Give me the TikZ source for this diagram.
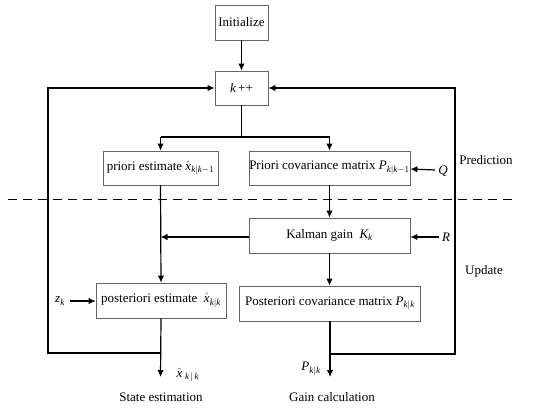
\documentclass[tikz,border=0pt]{standalone}
\usepackage{amsmath}
\usepackage{fontspec}
\setmainfont{Liberation Serif}
\usetikzlibrary{arrows.meta}
\newcommand{\mv}[1]{\textit{#1}}
\begin{document}
\begin{tikzpicture}[x=1pt,y=-1pt,
  box/.style={draw=black!60,line width=0.8pt,fill=white,inner sep=0pt,font=\fontsize{13}{15}\selectfont},
  conn/.style={line width=1.2pt,-{Latex[length=7pt,width=6.5pt]}},
  line/.style={line width=1.2pt},
  lbl/.style={inner sep=0pt,font=\fontsize{13}{15}\selectfont}]
\useasboundingbox[fill=white] (0,0) rectangle (550,412);
\node[box,minimum width=53pt,minimum height=35pt] (init) at (241.5,22.5) {Initialize};
\node[box,minimum width=53pt,minimum height=34pt] (kpp) at (241.5,88) {\mv{k}\,++};
\node[box,minimum width=115pt,minimum height=34pt] (prio) at (160.5,168) {priori estimate $\hat{\mv{x}}_{\mv{k}|\mv{k}-1}$};
\node[box,minimum width=161pt,minimum height=34pt] (pcov) at (329.5,168) {Priori covariance matrix $\mv{P}_{\mv{k}|\mv{k}-1}$};
\node[box,minimum width=161pt,minimum height=35pt] (kal) at (329.5,235.5) {Kalman gain\ \ $\mv{K}_{\mv{k}}$};
\node[box,minimum width=130pt,minimum height=35pt] (post) at (161,300.5) {posteriori estimate\ \ $\hat{\mv{x}}_{\mv{k}|\mv{k}}$};
\node[box,minimum width=181pt,minimum height=35pt] (pcovk) at (330,303.5) {Posteriori covariance matrix $\mv{P}_{\mv{k}|\mv{k}}$};
\node[lbl] (Q) at (443,171) {\mv{Q}};
\node[lbl] (R) at (446,237) {\mv{R}};
\node[lbl] (z) at (60,301) {$\mv{z}_{\mv{k}}$};
\node[lbl] (pred) at (486,160) {Prediction};
\node[lbl] (upd) at (484,271) {Update};
\node[lbl] (se) at (161,397) {State estimation};
\node[lbl] (gc) at (332,397) {Gain calculation};
\node[lbl] (xo) at (188,375) {$\hat{\mv{x}}_{\;\mv{k}\,|\,\mv{k}}$};
\node[lbl] (po) at (311,369) {$\mv{P}_{\mv{k}|\mv{k}}$};
\coordinate (split) at (241.5,137);
\coordinate (sl) at (160.5,137);
\coordinate (sr) at (329.5,137);
\coordinate (kj) at (160.5,237);
\coordinate (lj) at (160.5,353);
\coordinate (lc) at (48,353);
\coordinate (lt) at (48,88);
\coordinate (rj) at (330,354);
\coordinate (rc) at (455,354);
\coordinate (rt) at (455,88);
\coordinate (xend) at (160.5,377);
\coordinate (pend) at (330,377);
\coordinate (d1) at (8,199);
\coordinate (d2) at (516,199);
\draw[conn] (init) -- (kpp);
\draw[line] (kpp.south) -- (split);
\draw[line] (sl) -- (sr);
\draw[conn] (sl) -- (prio.north);
\draw[conn] (sr) -- (pcov.north);
\draw[conn] (Q.west) ++(-3,-1) -- (pcov.east |- 0,169);
\draw[conn] (pcov.south) -- (kal.north);
\draw[conn] (R.west) ++(-3,0) -- (kal.east |- 0,237);
\draw[conn] (kal.west |- kj) -- (kj);
\draw[conn] (prio.south) -- (post.north);
\draw[conn] (z.east) ++(5,0) -- (post.west |- 0,301);
\draw[conn] (kal.south) -- (pcovk.north -| kal.south);
\draw[conn] (post.south) -- (xend);
\draw[conn] (pcovk.south) -- (pend);
\draw[conn] (lj) -- (lc) -- (lt) -- (kpp.west);
\draw[conn] (rj) -- (rc) -- (rt) -- (kpp.east);
\draw[line width=0.9pt,dash pattern=on 9pt off 6pt] (d1) -- (d2);
\end{tikzpicture}
\end{document}
